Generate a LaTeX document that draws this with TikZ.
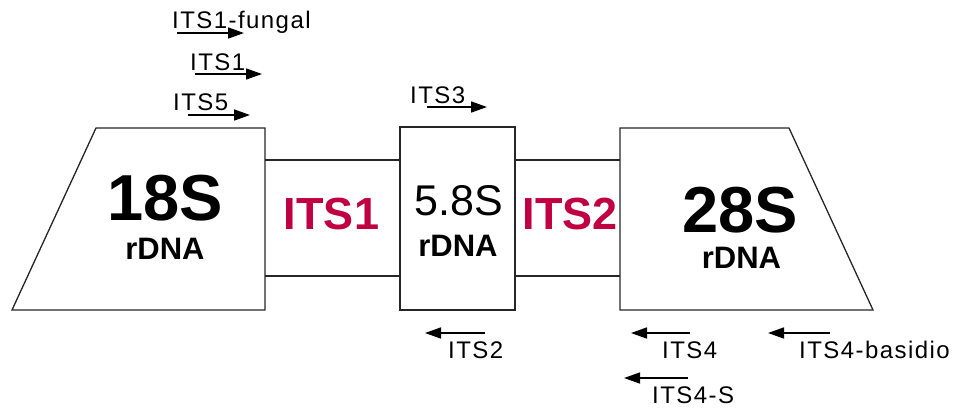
\documentclass[tikz,border=0pt]{standalone}
\usepackage{fontspec}
\setmainfont{Liberation Sans}
\newfontfamily\primerfont[LetterSpace=6]{Liberation Sans}
\usetikzlibrary{arrows.meta}
\definecolor{itsred}{RGB}{192,0,64}
\tikzset{
  region/.style={draw=black!85, line width=1.3pt, line join=miter},
  bigname/.style={anchor=base, inner sep=0pt, font=\bfseries\fontsize{65}{65}\selectfont},
  subname/.style={anchor=base, inner sep=0pt, font=\bfseries\fontsize{31}{31}\selectfont},
  itsname/.style={anchor=base, inner sep=0pt, text=itsred, font=\bfseries\fontsize{45}{45}\selectfont},
  midname/.style={anchor=base, inner sep=0pt, font=\fontsize{43}{43}\selectfont},
  primer/.style={anchor=base west, inner sep=0pt, font=\primerfont\fontsize{24}{24}\selectfont},
  primerarrow/.style={draw=black, line width=1.7pt, -{Triangle[length=16pt,width=11pt]}}
}
\begin{document}
\begin{tikzpicture}[x=1pt,y=-1pt]
\useasboundingbox (0,0) rectangle (955,408);
% regions
\draw[region] (96,128) -- (265,128) -- (265,310) -- (12,310) -- cycle;
\draw[region] (265,160) -- (400,160);
\draw[region] (265,276) -- (400,276);
\draw[region] (400,127) rectangle (515,310);
\draw[region] (515,160) -- (620,160);
\draw[region] (515,276) -- (620,276);
\draw[region] (620,128) -- (789,128) -- (873,310) -- (620,310) -- cycle;
% region labels
\node[bigname] (t18) at (165.5,220) {18S};
\node[subname] (r18) at (165,259) {rDNA};
\node[itsname] (its1) at (331.5,229) {ITS1};
\node[midname] (t58) at (459,215) {5.8S};
\node[subname] (r58) at (458,256) {rDNA};
\node[itsname] (its2) at (570,229) {ITS2};
\node[bigname] (t28) at (740,232) {28S};
\node[subname] (r28) at (741.5,268) {rDNA};
% primer labels
\node[primer] (pfung) at (172,28) {ITS1-fungal};
\node[primer] (pits1) at (190,70) {ITS1};
\node[primer] (pits5) at (173,110) {ITS5};
\node[primer] (pits3) at (410,103) {ITS3};
\node[primer] (pits2) at (448,358) {ITS2};
\node[primer] (pits4) at (662,358) {ITS4};
\node[primer] (pbas) at (799,358) {ITS4-basidio};
\node[primer] (pits4s) at (652,403) {ITS4-S};
% primer arrow end points
\coordinate (afung0) at (177,33);  \coordinate (afung1) at (244,33);
\coordinate (aits10) at (195,74);  \coordinate (aits11) at (262,74);
\coordinate (aits50) at (188,115); \coordinate (aits51) at (250,115);
\coordinate (aits30) at (427,107); \coordinate (aits31) at (487,107);
\coordinate (aits20) at (485,333); \coordinate (aits21) at (425,333);
\coordinate (aits40) at (690,333); \coordinate (aits41) at (631,333);
\coordinate (abas0) at (830,333);  \coordinate (abas1) at (768,333);
\coordinate (aits4s0) at (688,378); \coordinate (aits4s1) at (624,378);
\draw[primerarrow] (afung0) -- (afung1);
\draw[primerarrow] (aits10) -- (aits11);
\draw[primerarrow] (aits50) -- (aits51);
\draw[primerarrow] (aits30) -- (aits31);
\draw[primerarrow] (aits20) -- (aits21);
\draw[primerarrow] (aits40) -- (aits41);
\draw[primerarrow] (abas0) -- (abas1);
\draw[primerarrow] (aits4s0) -- (aits4s1);
\end{tikzpicture}
\end{document}
